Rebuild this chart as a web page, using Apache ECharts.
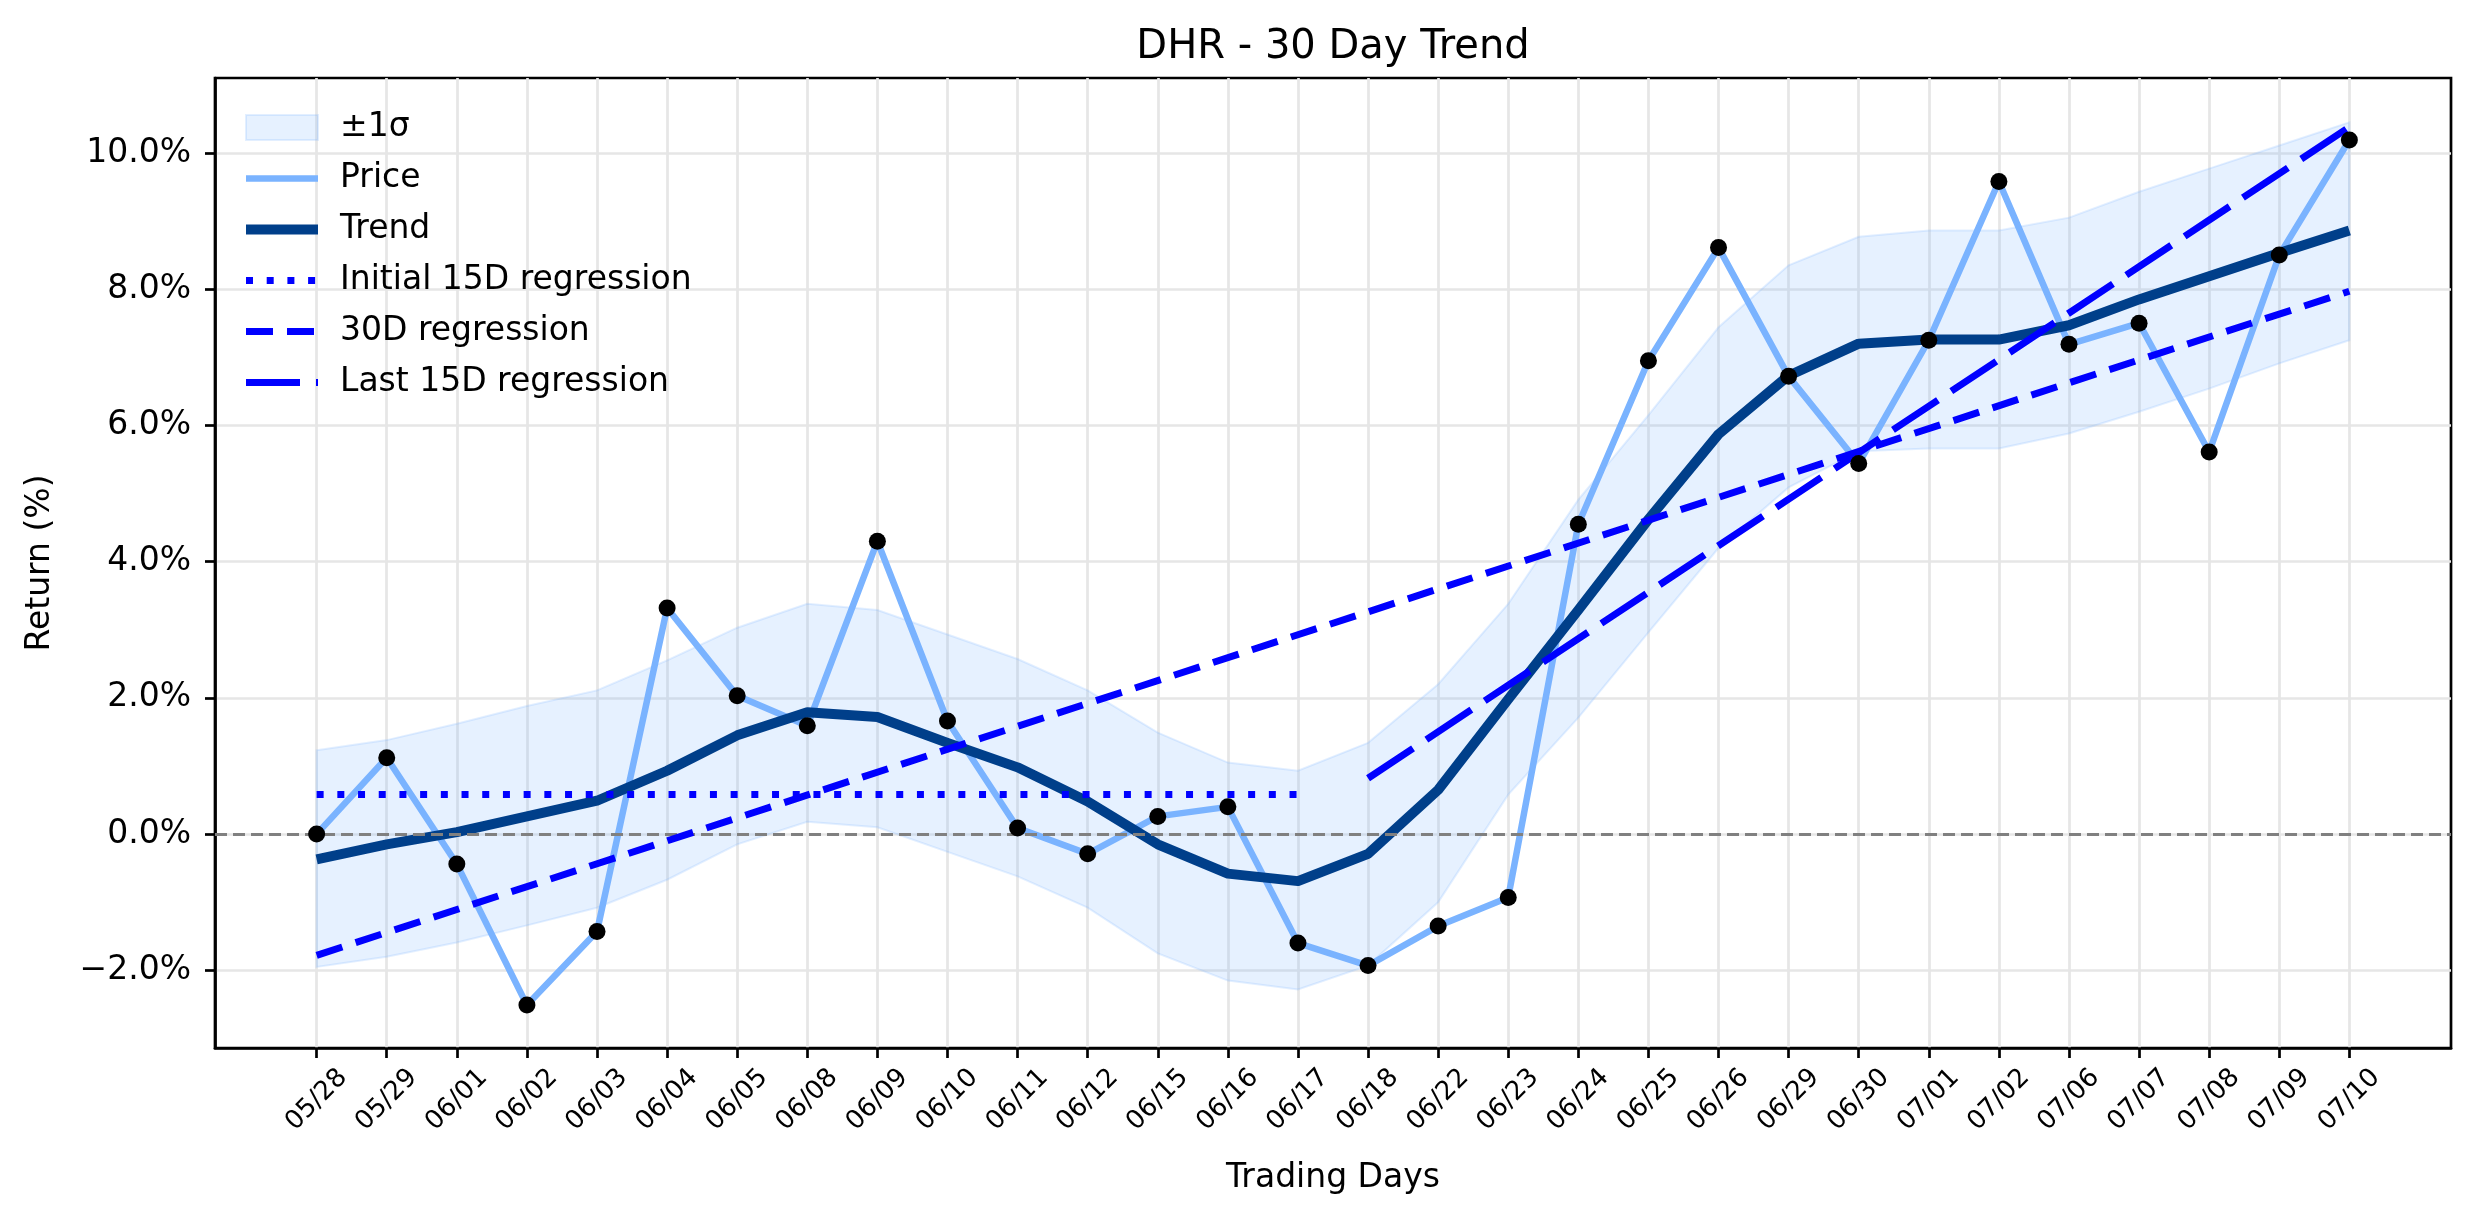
<!DOCTYPE html>
<html>
<head>
<meta charset="utf-8">
<title>DHR - 30 Day Trend</title>
<script src="https://cdn.jsdelivr.net/npm/echarts@6/dist/echarts.min.js"></script>
<style>
  html, body { margin: 0; padding: 0; background: #fff; }
  #chart { width: 2474px; height: 1224px; }
</style>
</head>
<body>
<div id="chart"></div>
<script>
// trading days (x axis)
var days = ['05/28', '05/29', '06/01', '06/02', '06/03', '06/04', '06/05', '06/08', '06/09', '06/10',
  '06/11', '06/12', '06/15', '06/16', '06/17', '06/18', '06/22', '06/23', '06/24', '06/25',
  '06/26', '06/29', '06/30', '07/01', '07/02', '07/06', '07/07', '07/08', '07/09', '07/10'];

// returns in %
var price = [0.00, 1.12, -0.44, -2.51, -1.43, 3.32, 2.03, 1.59, 4.30, 1.66,
  0.09, -0.29, 0.26, 0.40, -1.60, -1.93, -1.35, -0.93, 4.55, 6.95,
  8.61, 6.72, 5.44, 7.25, 9.58, 7.19, 7.50, 5.61, 8.50, 10.19];
var trend = [-0.37, -0.15, 0.03, 0.26, 0.49, 0.93, 1.45, 1.79, 1.72, 1.34,
  0.98, 0.48, -0.15, -0.58, -0.69, -0.29, 0.65, 1.98, 3.29, 4.62,
  5.87, 6.73, 7.20, 7.26, 7.26, 7.47, 7.85, 8.19, 8.53, 8.86];
// +-1 sigma band
var bandUpper = [1.23, 1.38, 1.62, 1.88, 2.11, 2.55, 3.03, 3.38, 3.29, 2.93,
  2.57, 2.11, 1.49, 1.05, 0.93, 1.34, 2.20, 3.38, 4.91, 6.15,
  7.44, 8.35, 8.77, 8.86, 8.86, 9.05, 9.43, 9.77, 10.11, 10.45];
var bandLower = [-1.95, -1.80, -1.59, -1.34, -1.08, -0.67, -0.15, 0.18, 0.10, -0.26,
  -0.62, -1.08, -1.75, -2.15, -2.28, -1.93, -1.00, 0.58, 1.71, 2.96,
  4.20, 5.09, 5.62, 5.66, 5.66, 5.88, 6.20, 6.54, 6.91, 7.25];

// regression lines: start/end day index and value
var regInitialDays = [0, 14];
var regInitialVals = [0.58, 0.58];
var reg30Days = [0, 29];
var reg30Vals = [-1.78, 7.97];
var regLastDays = [15, 29];
var regLastVals = [0.82, 10.38];

var yTicks = [-2, 0, 2, 4, 6, 8, 10];

var FONT = 'DejaVu Sans';
var bandFill = 'rgba(121,180,255,0.19)';
var bandEdge = 'rgba(121,180,255,0.21)';

function pairs(xs, ys) {
  return ys.map(function (v, i) { return [xs ? xs[i] : i, v]; });
}
function pct(v) {
  return (v < 0 ? '\u2212' : '') + Math.abs(v).toFixed(1) + '%';
}

// band drawn as one polygon: upper edge forward, lower edge back
function renderBand(params, api) {
  if (params.dataIndex !== 0) return null;
  var pts = [];
  for (var i = 0; i < bandUpper.length; i++) pts.push(api.coord([i, bandUpper[i]]));
  for (var j = bandLower.length - 1; j >= 0; j--) pts.push(api.coord([j, bandLower[j]]));
  return {
    type: 'polygon',
    shape: { points: pts },
    style: { fill: bandFill, stroke: bandEdge, lineWidth: 2 }
  };
}

var chart = echarts.init(document.getElementById('chart'));

var hideDot = { opacity: 0 };

chart.setOption({
  animation: false,
  backgroundColor: '#fff',
  textStyle: { fontFamily: FONT },
  title: {
    text: 'DHR - 30 Day Trend',
    left: 1333,
    textAlign: 'center',
    top: 28,
    padding: 0,
    textStyle: { fontFamily: FONT, fontSize: 40, fontWeight: 'normal', color: '#000' }
  },
  legend: {
    orient: 'vertical',
    left: 236,
    top: 106,
    itemWidth: 72,
    itemHeight: 25,
    itemGap: 18,
    textStyle: { fontFamily: FONT, fontSize: 33, color: '#000', lineHeight: 33, padding: [0, 0, 0, 17] },
    data: [
      { name: '±1σ', icon: 'rect', itemStyle: { color: bandFill, borderColor: bandEdge, borderWidth: 2 } },
      { name: 'Price', itemStyle: hideDot, lineStyle: { width: 6.5, type: 'solid' } },
      { name: 'Trend', itemStyle: hideDot, lineStyle: { width: 10, type: 'solid' } },
      { name: 'Initial 15D regression', itemStyle: hideDot, lineStyle: { width: 7, type: [7, 13.7] } },
      { name: '30D regression', itemStyle: hideDot, lineStyle: { width: 7, type: [27, 14] } },
      { name: 'Last 15D regression', itemStyle: hideDot, lineStyle: { width: 7, type: [54, 16] } }
    ]
  },
  grid: {
    left: 215,
    right: 23,
    top: 78,
    bottom: 176,
    show: true,
    borderColor: '#000',
    borderWidth: 2.7,
    backgroundColor: 'transparent',
    outerBoundsMode: 'none'
  },
  xAxis: {
    type: 'value',
    min: -1.45,
    max: 30.45,
    name: 'Trading Days',
    nameLocation: 'middle',
    nameGap: 114,
    nameTextStyle: { fontFamily: FONT, fontSize: 33, color: '#000' },
    axisLine: { show: true, onZero: false, lineStyle: { color: '#000', width: 2.7 } },
    axisTick: { show: true, length: 10, lineStyle: { color: '#000', width: 2.7 }, customValues: days.map(function (d, i) { return i; }) },
    axisLabel: {
      customValues: days.map(function (d, i) { return i; }),
      formatter: function (v) { return days[v]; },
      rotate: 45,
      align: 'center',
      verticalAlign: 'middle',
      margin: 52,
      fontFamily: FONT,
      fontSize: 26,
      color: '#000'
    },
    splitLine: { show: true, lineStyle: { color: '#e6e6e6', width: 2.7 } }
  },
  yAxis: {
    type: 'value',
    min: -3.14,
    max: 11.10,
    name: 'Return (%)',
    nameLocation: 'middle',
    nameGap: 158,
    nameTextStyle: { fontFamily: FONT, fontSize: 33, color: '#000' },
    axisLine: { show: true, onZero: false, lineStyle: { color: '#000', width: 2.7 } },
    axisTick: { show: true, length: 10, lineStyle: { color: '#000', width: 2.7 }, customValues: yTicks },
    axisLabel: {
      customValues: yTicks,
      formatter: pct,
      margin: 24,
      fontFamily: FONT,
      fontSize: 33,
      color: '#000'
    },
    splitLine: { show: true, lineStyle: { color: '#e6e6e6', width: 2.7 } }
  },
  series: [
    {
      name: '±1σ',
      type: 'custom',
      data: bandUpper.map(function (v, i) { return [i, v, bandLower[i]]; }),
      encode: { x: 0, y: [1, 2] },
      renderItem: renderBand,
      silent: true,
      z: 1,
      itemStyle: { color: bandFill },
      markLine: {
        silent: true,
        symbol: 'none',
        label: { show: false },
        lineStyle: { color: '#808080', width: 3, type: [12, 6] },
        data: [{ yAxis: 0 }]
      }
    },
    {
      name: 'Price',
      type: 'line',
      data: pairs(null, price),
      symbol: 'none',
      z: 3,
      itemStyle: { color: '#7ab3ff' },
      lineStyle: { color: '#7ab3ff', width: 6.5, join: 'round' }
    },
    {
      name: 'Trend',
      type: 'line',
      data: pairs(null, trend),
      symbol: 'none',
      z: 4,
      itemStyle: { color: '#003f8a' },
      lineStyle: { color: '#003f8a', width: 10, join: 'round' }
    },
    {
      name: 'Initial 15D regression',
      type: 'line',
      data: pairs(regInitialDays, regInitialVals),
      symbol: 'none',
      z: 5,
      itemStyle: { color: '#0000ff' },
      lineStyle: { color: '#0000ff', width: 7, type: [7, 13.7] }
    },
    {
      name: '30D regression',
      type: 'line',
      data: pairs(reg30Days, reg30Vals),
      symbol: 'none',
      z: 5,
      itemStyle: { color: '#0000ff' },
      lineStyle: { color: '#0000ff', width: 7, type: [27, 14] }
    },
    {
      name: 'Last 15D regression',
      type: 'line',
      data: pairs(regLastDays, regLastVals),
      symbol: 'none',
      z: 5,
      itemStyle: { color: '#0000ff' },
      lineStyle: { color: '#0000ff', width: 7, type: [54, 16] }
    },
    {
      name: 'points',
      type: 'scatter',
      data: pairs(null, price),
      symbol: 'circle',
      symbolSize: 17,
      z: 10,
      itemStyle: { color: '#000', opacity: 1 }
    }
  ]
});
</script>
</body>
</html>
